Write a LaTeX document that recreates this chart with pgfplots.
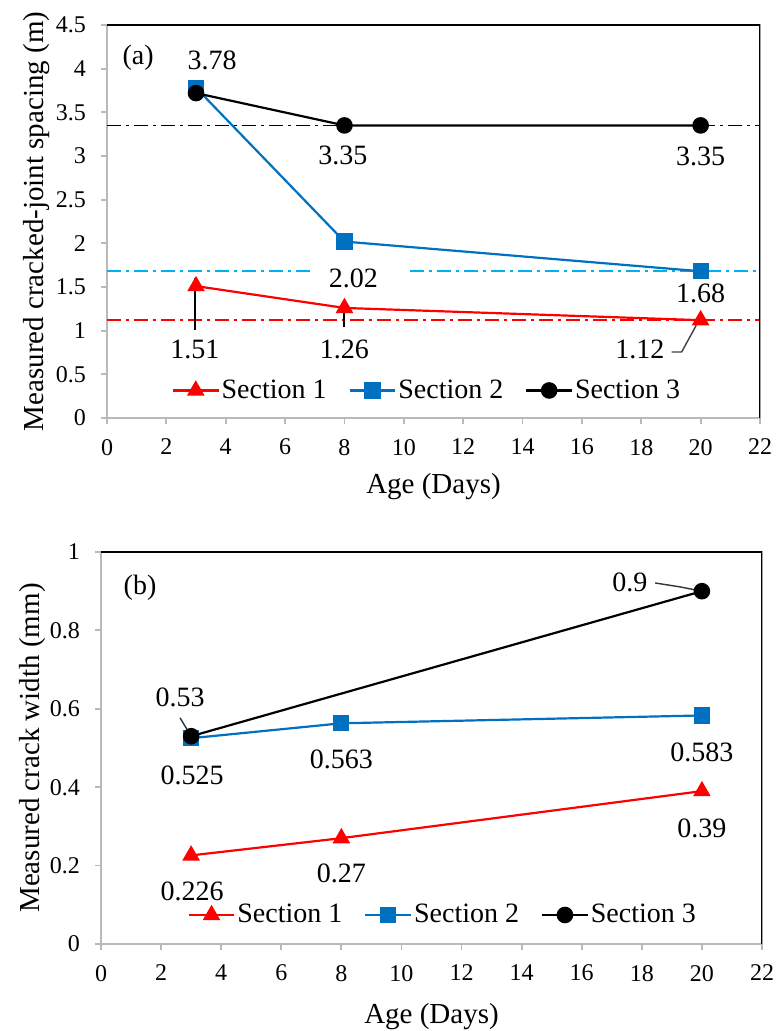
\documentclass[border=0pt]{standalone}
\usepackage{fontspec}
\setmainfont{Liberation Serif}
\usepackage{pgfplots}
\pgfplotsset{compat=1.18}
\definecolor{sone}{RGB}{255,0,0}
\definecolor{stwo}{RGB}{0,112,192}
\definecolor{ddblue}{RGB}{0,176,240}
\definecolor{axgray}{RGB}{185,185,185}
\pgfplotsset{
  common/.style={
    scale only axis,
    xmin=0, xmax=22, xtick={0,2,...,22},
    axis line style={axgray, line width=0.9pt},
    tick pos=left, tick align=outside,
    major tick length=3pt,
    tick style={axgray, line width=0.9pt},
    /pgf/number format/assume math mode=true,
    tick label style={font=\fontsize{12}{14}\selectfont, black},
    xticklabel style={yshift=-4pt},
    yticklabel style={xshift=-4pt},
    label style={font=\fontsize{14.5}{17}\selectfont},
    xlabel={Age (Days)},
    legend columns=3,
    legend style={draw=none, fill=none, font=\fontsize{14}{16}\selectfont,
      /tikz/every even column/.append style={column sep=10pt},
      inner sep=0pt, nodes={inner sep=1pt}},
    legend image code/.code={\draw[mark repeat=2,mark phase=2] plot coordinates {(0cm,0cm) (0.4cm,0cm) (0.8cm,0cm)};},
  },
  s1/.style={sone, line width=1.1pt, mark=triangle*, mark size=4pt, mark options={solid, fill=sone}},
  s2/.style={stwo, line width=1.1pt, mark=square*, mark size=3.5pt, mark options={solid, fill=stwo}},
  s3/.style={black, line width=1.1pt, mark=*, mark size=3.6pt, mark options={solid, fill=black}},
  dd/.style={line width=0.8pt, dash pattern=on 7pt off 2.5pt on 1.5pt off 2.5pt, forget plot},
}
\newcommand{\lab}{\fontsize{14}{16}\selectfont}
\begin{document}
\begin{tikzpicture}
\useasboundingbox (0,0) rectangle (388.5pt,515.5pt);
% ---------------- (a) ----------------
\begin{axis}[common,
  at={(53.5pt,306.5pt)}, anchor=south west,
  width=326.5pt, height=196.5pt,
  ymin=0, ymax=4.5, ytick={0,0.5,...,4.5},
  ylabel={Measured cracked-joint spacing (m)},
  ylabel style={yshift=-4pt},
  xlabel style={yshift=-2pt},
  legend style={at={(0.49,0.07)}, anchor=center},
]
\addplot[dd, color=black] coordinates {(0,3.35) (22,3.35)};
\addplot[dd, color=ddblue] coordinates {(0,1.68) (6.95,1.68)};
\addplot[dd, color=ddblue] coordinates {(10.2,1.68) (22,1.68)};
\addplot[dd, color=sone] coordinates {(0,1.12) (22,1.12)};
\addplot[s1] coordinates {(3,1.51) (8,1.26) (20,1.12)};
\addlegendentry{Section 1}
\addplot[s2] coordinates {(3,3.78) (8,2.02) (20,1.68)};
\addlegendentry{Section 2}
\addplot[s3] coordinates {(3,3.72) (8,3.35) (20,3.35)};
\addlegendentry{Section 3}
\draw[black, line width=0.9pt] (rel axis cs:0,1) -- (rel axis cs:1,1) -- (rel axis cs:1,0);
\draw[black, line width=0.7pt] (axis cs:2.96,1.01) -- (axis cs:2.96,1.60);
\draw[black, line width=0.7pt] (axis cs:7.98,1.04) -- (axis cs:7.98,1.22);
\draw[black!75, line width=0.7pt] (axis cs:19.02,0.756) -- (axis cs:19.36,0.756) -- (axis cs:19.85,1.06);
\node[font=\lab] at (axis cs:1.05,4.12) {(a)};
\node[font=\lab] at (axis cs:3.54,4.10) {3.78};
\node[font=\lab] at (axis cs:7.95,3.01) {3.35};
\node[font=\lab] at (axis cs:20.0,2.99) {3.35};
\node[font=\lab] at (axis cs:8.3,1.60) {2.02};
\node[font=\lab] at (axis cs:20.0,1.43) {1.68};
\node[font=\lab] at (axis cs:2.96,0.78) {1.51};
\node[font=\lab] at (axis cs:8.0,0.78) {1.26};
\node[font=\lab] at (axis cs:17.95,0.78) {1.12};
\end{axis}
% ---------------- (b) ----------------
\begin{axis}[common,
  at={(50.5pt,43.5pt)}, anchor=south west,
  width=330.5pt, height=196pt,
  ymin=0, ymax=1, ytick={0,0.2,...,1.0},
  yticklabels={0,0.2,0.4,0.6,0.8,1},
  ylabel={Measured crack width (mm)},
  ylabel style={yshift=-4.5pt},
  xlabel style={yshift=-4pt},
  legend style={at={(0.517,0.074)}, anchor=center},
]
\addplot[s1] coordinates {(3,0.226) (8,0.27) (20,0.39)};
\addlegendentry{Section 1}
\addplot[s2] coordinates {(3,0.525) (8,0.563) (20,0.583)};
\addlegendentry{Section 2}
\addplot[s3] coordinates {(3,0.53) (20,0.9)};
\addlegendentry{Section 3}
\draw[black, line width=0.9pt] (rel axis cs:0,1) -- (rel axis cs:1,1) -- (rel axis cs:1,0);
\draw[black!80, line width=0.7pt] (axis cs:2.63,0.577) -- (axis cs:2.96,0.535);
\draw[black!80, line width=0.7pt] (axis cs:18.44,0.921) -- (axis cs:19.27,0.911) -- (axis cs:20,0.9);
\node[font=\lab] at (axis cs:1.3,0.908) {(b)};
\node[font=\lab] at (axis cs:2.63,0.63) {0.53};
\node[font=\lab] at (axis cs:3.03,0.431) {0.525};
\node[font=\lab] at (axis cs:8.0,0.472) {0.563};
\node[font=\lab] at (axis cs:20.0,0.49) {0.583};
\node[font=\lab] at (axis cs:3.03,0.133) {0.226};
\node[font=\lab] at (axis cs:8.0,0.181) {0.27};
\node[font=\lab] at (axis cs:20.0,0.296) {0.39};
\node[font=\lab] at (axis cs:17.6,0.923) {0.9};
\end{axis}
\end{tikzpicture}
\end{document}
